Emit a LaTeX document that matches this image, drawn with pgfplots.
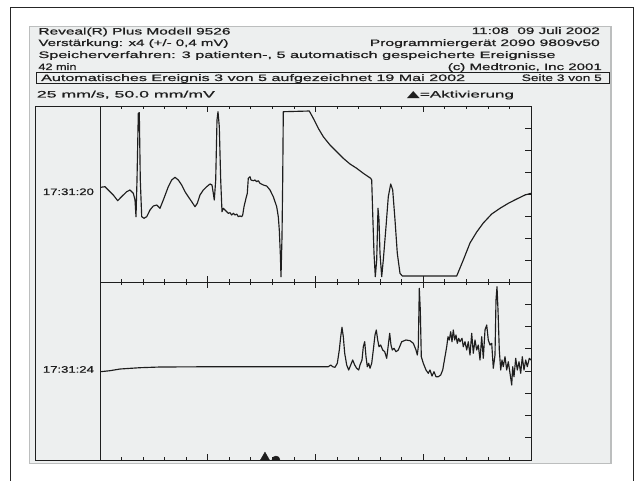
\documentclass[border=0pt]{standalone}
\usepackage{pgfplots}
\pgfplotsset{compat=1.18}
\usepackage{pgfplotstable}
\usepackage{fontspec}
\usepackage{graphicx}
\setmainfont{Liberation Sans}[FakeBold=0.6]
\newfontfamily\dejavu{DejaVu Sans}
\definecolor{panel}{RGB}{237,239,239}
\definecolor{panelborder}{RGB}{188,190,190}
\definecolor{ink}{RGB}{30,30,30}
\newcommand{\stext}[2]{\resizebox{#1pt}{\height}{\fontsize{9.4}{10}\selectfont #2}}

% upper strip (17:31:20): x, y positions
\pgfplotstableread{
px py
100.5 187.3
105.0 186.7
108.3 190.0
113.3 195.0
117.7 200.7
120.0 198.3
123.3 195.0
126.7 191.7
130.0 190.0
133.3 193.3
135.0 200.0
136.0 216.7
137.0 180.0
138.3 113.3
139.3 112.7
140.3 180.0
141.7 216.7
144.0 218.3
146.7 216.7
150.0 210.0
153.3 206.0
156.7 205.0
160.0 208.3
163.3 200.0
168.3 186.7
171.7 180.0
175.0 177.3
178.3 180.0
181.7 185.0
185.0 191.7
188.3 196.7
191.7 201.7
195.0 206.7
197.3 203.3
200.0 195.0
203.3 190.0
206.7 186.7
210.0 184.0
212.0 185.0
213.3 193.3
214.3 200.0
215.7 180.0
217.0 120.0
218.0 111.7
219.3 126.7
220.7 180.0
222.0 211.7
223.3 208.3
225.0 210.0
226.7 211.7
228.3 213.3
230.0 212.7
231.7 215.0
233.3 213.3
235.0 215.0
236.7 214.0
238.3 216.7
240.0 216.0
241.7 216.7
242.7 215.0
244.0 206.7
246.0 198.3
247.3 193.3
248.3 178.3
250.0 176.7
251.0 180.0
253.3 180.7
255.0 180.0
256.7 181.7
258.3 180.7
260.0 183.3
263.3 185.0
266.7 186.0
270.0 190.0
273.3 196.7
276.7 206.7
278.3 216.7
279.3 230.0
280.3 253.3
281.0 276.7
282.0 236.7
282.7 180.0
283.3 111.7
309.3 111.0
313.3 118.3
318.3 128.3
323.3 136.7
330.0 145.0
336.7 151.7
343.3 158.3
350.0 164.0
356.7 168.3
363.3 173.3
370.7 178.3
371.7 180.0
372.7 213.3
374.0 253.3
375.3 276.7
376.7 260.0
378.0 208.3
379.0 220.0
380.0 253.3
381.7 276.7
383.3 260.0
386.0 226.7
388.3 196.7
390.7 184.0
392.7 190.0
395.0 220.0
397.3 253.3
400.0 273.3
402.3 276.0
456.7 276.0
463.3 260.0
470.0 243.0
476.7 232.0
483.3 223.0
491.7 214.0
500.0 208.3
508.3 203.3
516.7 199.0
525.0 195.0
531.0 193.3
}\uppertrace

% lower strip (17:31:24)
\pgfplotstableread{
px py
100.5 371.7
110.0 370.7
120.0 369.0
140.0 367.7
160.0 367.0
220.0 366.7
328.3 366.7
330.7 365.0
332.7 366.7
335.0 367.3
337.3 363.3
339.3 350.0
340.7 336.7
342.0 327.3
343.3 336.7
344.7 353.3
346.7 365.0
348.7 370.0
350.7 365.0
352.7 360.0
354.7 365.0
356.7 368.3
358.7 370.0
360.0 365.0
362.0 360.0
363.3 346.7
364.7 341.7
366.0 356.7
367.3 366.7
368.7 363.3
370.0 368.3
371.7 363.3
373.3 350.0
375.0 335.0
376.3 330.0
377.7 340.0
379.0 346.7
380.7 345.0
382.7 350.0
384.7 351.7
386.7 358.3
388.3 345.0
389.7 333.3
391.0 345.0
392.3 350.0
394.0 348.3
396.0 351.7
398.3 350.0
401.7 341.7
406.0 340.0
410.0 340.7
413.3 343.3
416.0 350.0
417.3 355.0
418.3 346.7
419.3 288.3
420.3 310.0
421.3 356.7
423.3 363.3
426.0 370.0
428.3 373.3
430.0 370.0
432.0 376.0
434.0 371.7
436.0 376.7
438.3 376.7
440.7 375.0
442.7 370.0
445.0 356.7
446.7 346.7
448.0 336.7
449.3 340.0
450.7 331.7
452.0 341.7
453.3 330.0
454.7 340.0
456.0 335.0
457.3 343.3
458.7 338.3
460.0 341.7
462.0 338.3
463.3 346.7
465.0 341.7
466.7 350.0
468.3 341.7
470.0 355.0
471.7 333.3
473.3 353.3
475.0 340.0
476.7 350.0
478.3 345.0
480.0 360.0
481.7 336.7
483.3 358.3
485.0 330.0
486.7 325.0
488.3 340.0
490.0 345.0
491.7 343.3
493.3 368.3
495.0 355.0
496.0 300.0
497.0 286.7
498.0 310.0
499.3 350.0
500.7 370.0
502.0 360.0
503.3 366.7
505.0 356.7
506.7 370.0
508.3 361.7
510.0 373.3
511.7 385.0
512.7 366.7
514.0 376.7
515.7 358.3
517.3 370.0
519.0 361.7
520.7 373.3
522.3 356.7
524.0 370.0
525.7 360.0
527.3 366.7
529.3 358.3
531.0 360.0
}\lowertrace

\pgfplotsset{
  strip/.style={
    anchor=south west, scale only axis, width=431pt,
    xmin=0, xmax=4, ymin=0, ymax=8,
    axis line style={ink, line width=0.9pt},
    tick style={ink, line width=0.8pt},
    tick align=inside,
    xtick={1,2,3},
    minor xtick={0.2,0.4,0.6,0.8,1.2,1.4,1.6,1.8,2.2,2.4,2.6,2.8,3.2,3.4,3.6,3.8},
    ytick={1,2,3,4,5,6,7},
    xtick pos=both, ytick pos=right,
    xticklabels={}, yticklabels={},
    major tick length=6pt, minor tick length=3pt,
  },
  trace/.style={ink, line width=1.15pt, line join=round, no marks},
}

\begin{document}
\begin{tikzpicture}[x=1pt,y=1pt]
\path[use as bounding box] (0,0) rectangle (637,480);
\fill[white] (0,0) rectangle (637,480);
\draw[black!85, line width=1.4pt] (10.5,-1) -- (10.5,472.5) -- (633.7,472.5) -- (633.7,-1);
\draw[panelborder, fill=panel, line width=1.2pt] (29.5,16.5) rectangle (611,453.5);
\draw[ink, line width=0.8pt] (36.7,396.3) rectangle (609,407.3);
\draw[ink, line width=0.9pt] (35.5,20) rectangle (531,374);

\begin{scope}[every node/.style={inner sep=0pt, text=ink}]
\node[anchor=base west] at (38.3,445.5) {\stext{192}{Reveal(R) Plus Modell 9526}};
\node[anchor=base east] at (600,446) {\stext{128}{11:08\ \ 09 Juli 2002}};
\node[anchor=base west] at (38.3,434) {\stext{190}{Verstärkung: x4 (+/- 0,4 mV)}};
\node[anchor=base east] at (600,434) {\stext{230}{Programmiergerät 2090 9809v50}};
\node[anchor=base west] at (38.3,422) {\stext{517}{Speicherverfahren: 3 patienten-, 5 automatisch gespeicherte Ereignisse}};
\node[anchor=base west] at (38.3,410) {\stext{38}{42 min}};
\node[anchor=base east] at (602,410) {\stext{154}{(c) Medtronic, Inc 2001}};
\node[anchor=base west] at (41,399) {\stext{424}{Automatisches Ereignis 3 von 5 aufgezeichnet 19 Mai 2002}};
\node[anchor=base east] at (602,399) {\stext{80}{Seite 3 von 5}};
\node[anchor=base west] at (36.7,382.5) {\stext{178}{25 mm/s, 50.0 mm/mV}};
\node[anchor=base west] at (406.7,382.5) {\stext{107}{{\dejavu ▲}=Aktivierung}};
\node[anchor=base west] at (42.7,285) {\stext{51}{17:31:20}};
\node[anchor=base west] at (42.7,107.3) {\stext{51}{17:31:24}};
\end{scope}

\begin{axis}[strip, at={(100pt,198pt)}, height=176pt]
\addplot[trace] table[x expr={(\thisrow{px}-100)/107.75}, y expr={(282-\thisrow{py})/22}] {\uppertrace};
\end{axis}

\begin{axis}[strip, at={(100pt,20pt)}, height=178pt, clip marker paths=true]
\addplot[trace] table[x expr={(\thisrow{px}-100)/107.75}, y expr={(460-\thisrow{py})/22.25}] {\lowertrace};
\addplot[only marks, mark=triangle*, mark size=5.2pt, ink] coordinates {(1.531,0.12)};
\addplot[only marks, mark=*, mark size=4pt, ink] coordinates {(1.633,0)};
\end{axis}
\end{tikzpicture}
\end{document}
